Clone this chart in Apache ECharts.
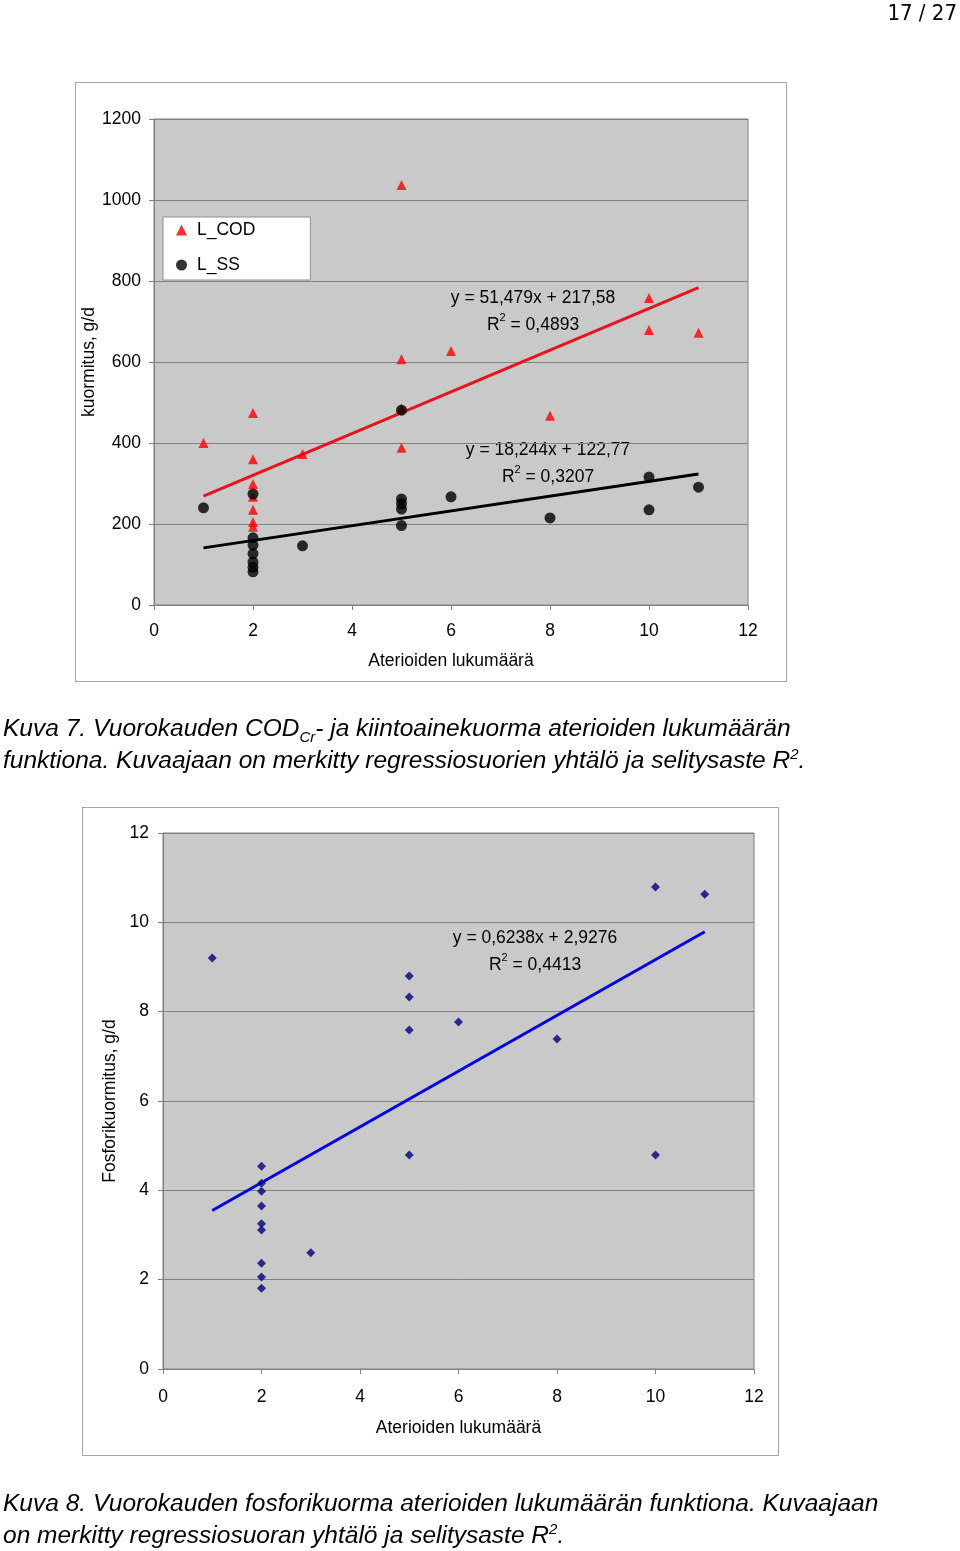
<!DOCTYPE html>
<html><head><meta charset="utf-8">
<script src="https://cdn.jsdelivr.net/npm/echarts@6/dist/echarts.min.js"></script>
<style>
html,body{margin:0;padding:0;background:#fff;}
#page{position:relative;width:960px;height:1551px;overflow:hidden;}
.frame{position:absolute;background:#fff;border:1px solid #a6a6a6;box-sizing:border-box;}
#chart{position:absolute;left:0;top:0;width:960px;height:1551px;}
.cap{position:absolute;left:3px;font-family:"Liberation Sans",Arial,sans-serif;font-style:italic;font-size:24.5px;line-height:32px;color:#000;white-space:nowrap;}
.cap sub,.cap sup{font-size:15px;line-height:0;}
#pn{position:absolute;right:3px;top:0px;font-family:"Liberation Sans Narrow","DejaVu Sans Condensed",sans-serif;font-size:22px;color:#000;}
</style></head>
<body><div id="page">
<div class="frame" style="left:75px;top:82px;width:712px;height:600px;"></div>
<div class="frame" style="left:82px;top:807px;width:697px;height:649px;"></div>
<div id="chart"></div>
<div id="pn">17 / 27</div>
<div class="cap" style="top:712px">Kuva 7. Vuorokauden COD<sub>Cr</sub>- ja kiintoainekuorma aterioiden lukumäärän<br>funktiona. Kuvaajaan on merkitty regressiosuorien yhtälö ja selitysaste R<sup>2</sup>.</div>
<div class="cap" style="top:1487px">Kuva 8. Vuorokauden fosforikuorma aterioiden lukumäärän funktiona. Kuvaajaan<br>on merkitty regressiosuoran yhtälö ja selitysaste R<sup>2</sup>.</div>
</div>
<script>
// ---- Chart 1 data (x = meals, y = load g/d)
const codPoints = [[1,400],[2,474],[2,360],[2,299],[2,267],[2,235],[2,205],[2,193],[3,373],[5,1037],[5,607],[5,486],[5,388],[6,627],[8,467],[10,758],[10,679],[11,672]];
const ssPoints = [[1,240],[2,274],[2,166],[2,148],[2,127],[2,106],[2,93],[2,82],[3,146],[5,481],[5,262],[5,250],[5,237],[5,196],[6,267],[8,215],[10,316],[10,235],[11,291]];
const codTrend = [[1,269.06],[11,783.85]];
const ssTrend = [[1,141.01],[11,323.45]];
// ---- Chart 2 data (phosphorus load g/d)
const pPoints = [[1,9.20],[2,4.54],[2,4.16],[2,3.98],[2,3.65],[2,3.25],[2,3.11],[2,2.37],[2,2.06],[2,1.81],[3,2.60],[5,8.80],[5,8.33],[5,7.59],[5,4.79],[6,7.77],[8,7.39],[10,10.79],[10,4.79],[11,10.63]];
const pTrend = [[1,3.55],[11,9.79]];
const xTicks1 = [0,2,4,6,8,10,12];
const yTicks1 = [0,200,400,600,800,1000,1200];
const yTicks2 = [0,2,4,6,8,10,12];

const FONT = '"Liberation Sans", Arial, sans-serif';
const FS = 17.5;
const chart = echarts.init(document.getElementById('chart'), null, {renderer:'canvas'});

function xAxisCfg(grid, gap, nameGap){
  return {gridIndex:grid, type:'value', min:0, max:12, interval:2,
    axisLine:{show:true, onZero:false, lineStyle:{color:'#808080', width:1}},
    axisTick:{show:true, length:5, lineStyle:{color:'#808080'}},
    axisLabel:{color:'#000', fontSize:FS, fontFamily:FONT, margin:gap, formatter:v=>String(v)},
    splitLine:{show:false},
    name:'Aterioiden lukumäärä', nameLocation:'middle', nameGap:nameGap, nameMoveOverlap:false,
    nameTextStyle:{color:'#000', fontSize:FS, fontFamily:FONT}};
}
function yAxisCfg(grid, max, interval, name, margin, nameGap){
  return {gridIndex:grid, type:'value', min:0, max:max, interval:interval,
    axisLine:{show:true, lineStyle:{color:'#808080', width:1}},
    axisTick:{show:true, length:5, lineStyle:{color:'#808080'}},
    axisLabel:{color:'#000', fontSize:FS, fontFamily:FONT, margin:margin, formatter:v=>String(v)},
    splitLine:{show:true, lineStyle:{color:'#808080', width:1}},
    name:name, nameLocation:'middle', nameGap:nameGap, nameRotate:90, nameMoveOverlap:false,
    nameTextStyle:{color:'#000', fontSize:FS, fontFamily:FONT}};
}
function eqText(x, y, eq, r2){
  return [
    {type:'text', x:x, y:y, style:{text:eq, fill:'#000', font:FS+'px '+FONT, align:'center', verticalAlign:'middle'}},
    {type:'text', x:x, y:y+25, style:{text:'{a|R}{b|2}{a| = '+r2+'}', align:'center', verticalAlign:'middle',
      rich:{a:{fontSize:FS, fontFamily:FONT, color:'#000', lineHeight:22, verticalAlign:'bottom'},
            b:{fontSize:11, fontFamily:FONT, color:'#000', lineHeight:22, verticalAlign:'top'}}}}
  ];
}

const option = {
  animation:false,
  backgroundColor:'transparent',
  grid:[
    {left:154, top:119, width:594, height:486, show:true, backgroundColor:'#c9c9c9', borderColor:'#808080', borderWidth:1},
    {left:163, top:833, width:591, height:536, show:true, backgroundColor:'#c9c9c9', borderColor:'#808080', borderWidth:1}
  ],
  xAxis:[xAxisCfg(0,17,47), xAxisCfg(1,19,50)],
  yAxis:[yAxisCfg(0,1200,200,'kuormitus, g/d',13,56), yAxisCfg(1,12,2,'Fosforikuormitus, g/d',14,44)],
  legend:{
    left:163, top:217, orient:'vertical', itemGap:17, itemWidth:11, itemHeight:11,
    backgroundColor:'#fff', borderColor:'#909090', borderWidth:1, padding:[4,55,6,13],
    textStyle:{color:'#000', fontSize:FS, fontFamily:FONT, padding:[0,0,0,5]},
    data:[{name:'L_COD', icon:'triangle'},{name:'L_SS', icon:'circle'}]
  },
  series:[
    {name:'codTrend', type:'line', xAxisIndex:0, yAxisIndex:0, data:codTrend, showSymbol:false, symbol:'none',
      lineStyle:{color:'#e8141c', width:3}, z:2, silent:true},
    {name:'ssTrend', type:'line', xAxisIndex:0, yAxisIndex:0, data:ssTrend, showSymbol:false, symbol:'none',
      lineStyle:{color:'#000', width:3}, z:2, silent:true},
    {name:'L_COD', type:'scatter', xAxisIndex:0, yAxisIndex:0, data:codPoints, symbol:'triangle', symbolSize:10,
      itemStyle:{color:'#ff0000'}, z:3},
    {name:'L_SS', type:'scatter', xAxisIndex:0, yAxisIndex:0, data:ssPoints, symbol:'circle', symbolSize:11,
      itemStyle:{color:'#000'}, z:4},
    {name:'pTrend', type:'line', xAxisIndex:1, yAxisIndex:1, data:pTrend, showSymbol:false, symbol:'none',
      lineStyle:{color:'#0000e0', width:3}, z:2, silent:true},
    {name:'P', type:'scatter', xAxisIndex:1, yAxisIndex:1, data:pPoints, symbol:'diamond', symbolSize:9,
      itemStyle:{color:'#000080'}, z:3}
  ],
  graphic:[].concat(
    eqText(533, 298, 'y = 51,479x + 217,58', '0,4893'),
    eqText(548, 450, 'y = 18,244x + 122,77', '0,3207'),
    eqText(535, 938, 'y = 0,6238x + 2,9276', '0,4413')
  )
};
chart.setOption(option);
</script>
</body></html>
